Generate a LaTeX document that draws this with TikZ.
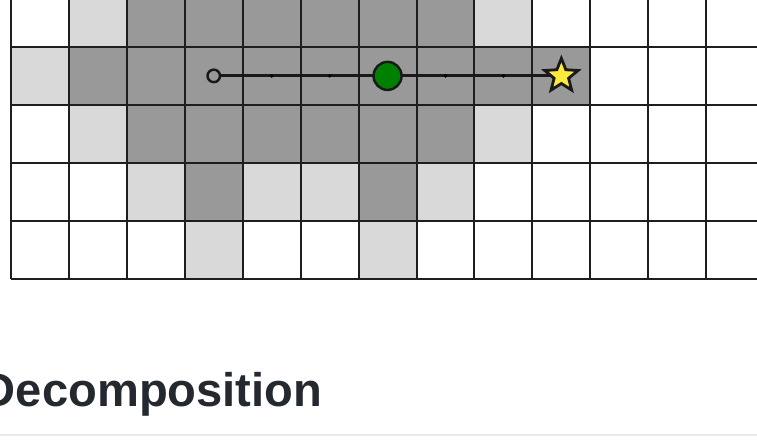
\documentclass[tikz,border=0pt]{standalone}
\usepackage{fontspec}
\setmainfont{Liberation Sans}
\usetikzlibrary{shapes.geometric}
\definecolor{darkcell}{RGB}{153,153,153}
\definecolor{lightcell}{RGB}{217,217,217}
\definecolor{gridline}{RGB}{30,30,30}
\definecolor{pathgreen}{RGB}{0,128,0}
\definecolor{staryellow}{RGB}{255,235,59}
\definecolor{headtext}{RGB}{36,41,47}
\definecolor{rulegray}{RGB}{232,234,237}
\pgfdeclarelayer{front}
\pgfsetlayers{main,front}
\begin{document}
\begin{tikzpicture}[x=0.01cm,y=-0.01cm,
  dark/.style={fill=darkcell},
  light/.style={fill=lightcell},
  gridlines/.style={draw=gridline,line width=0.55pt},
  route/.style={draw=black!90,line width=0.8pt},
  waypoint/.style={fill=black,circle,inner sep=0pt,minimum size=1.1pt},
  startpt/.style={circle,draw=black!90,line width=0.7pt,inner sep=0pt,minimum size=0.125cm},
  midpt/.style={circle,draw=black!90,fill=pathgreen,line width=0.7pt,inner sep=0pt,minimum size=0.28cm},
  goalpt/.style={star,star points=5,star point ratio=2.3,draw=black!90,fill=staryellow,
    line width=0.8pt,inner sep=0pt,minimum size=0.35cm}]
\useasboundingbox (0,0) rectangle (757,443);
\clip (0,0) rectangle (757,443);
% the grid, one unit per cell, rows counted downwards
\begin{scope}[shift={(11,-11)},x=0.579cm,y=-0.579cm]
% shaded cells
\foreach \c/\r in {2/0,3/0,4/0,5/0,6/0,7/0,
                   1/1,2/1,3/1,4/1,5/1,6/1,7/1,8/1,9/1,
                   2/2,3/2,4/2,5/2,6/2,7/2,
                   3/3,6/3}
  \fill[dark] (\c,\r) rectangle ++(1,1);
\foreach \c/\r in {1/0,8/0,0/1,1/2,8/2,2/3,4/3,5/3,7/3,3/4,6/4}
  \fill[light] (\c,\r) rectangle ++(1,1);
% lines
\foreach \c in {0,...,13}
  \draw[gridlines] (\c,-0.5) -- (\c,5);
\foreach \r in {0,...,5}
  \draw[gridlines] (0,\r) -- (13.5,\r);
% the path and its points
\begin{pgfonlayer}{front}
\node[startpt] (start) at (3.5,1.5) {};
\node[midpt] (mid) at (6.5,1.5) {};
\node[goalpt] (goal) at (9.5,1.5) {};
\end{pgfonlayer}
\draw[route] (start.east) -- (goal.center);
\foreach \c in {4,5,7,8}
  \node[waypoint] (wp\c) at (\c.5,1.5) {};
\end{scope}
% heading below the grid
\node[anchor=base east,inner sep=0pt,text=headtext,
  font=\bfseries\fontsize{13.4}{16}\selectfont] (title) at (323,407) {Decomposition};
\fill[rulegray] (0,434) rectangle (757,436.5);
\end{tikzpicture}
\end{document}
